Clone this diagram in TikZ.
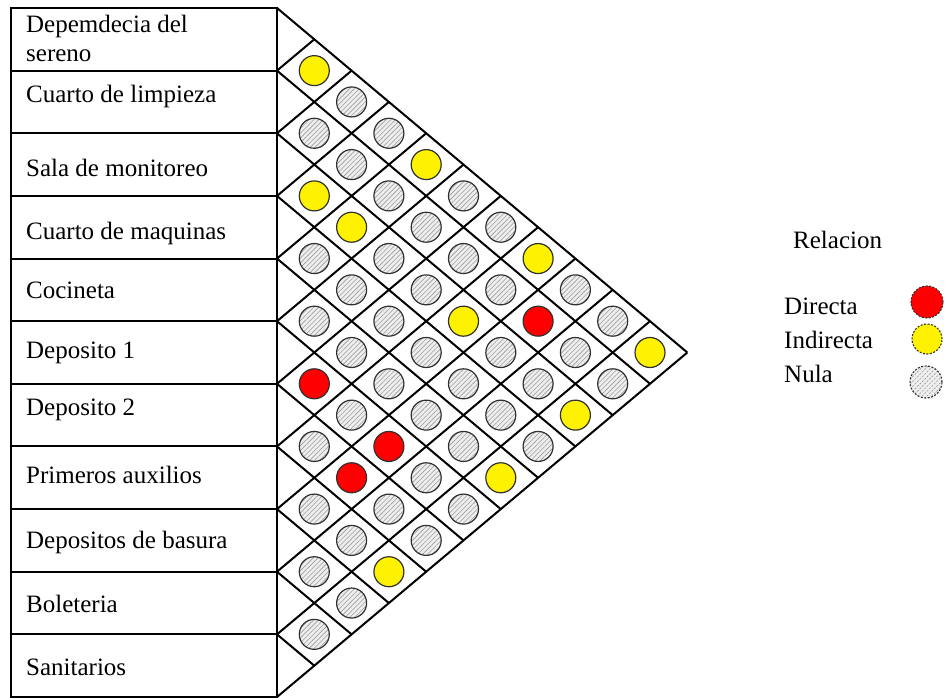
\documentclass[tikz,border=0pt]{standalone}
\usepackage{fontspec}
\setmainfont{Liberation Serif}
\usetikzlibrary{patterns.meta}
\definecolor{nulafill}{HTML}{EEEEEE}
\definecolor{nulahatch}{HTML}{9C9C9C}
\definecolor{rimcol}{HTML}{303030}
\begin{document}
\begin{tikzpicture}[x=1pt,y=-1pt,
  labelbox/.style={draw=black, line width=2pt, minimum width=266pt, minimum height=62.636pt, inner sep=0pt},
  labeltext/.style={anchor=base west, inner sep=0pt, font=\fontsize{25}{30}\selectfont},
  legtext/.style={anchor=base west, inner sep=0pt, font=\fontsize{25}{30}\selectfont},
  gridline/.style={draw=black, line width=2pt},
  rel/.style={circle, minimum size=30pt, inner sep=0pt, draw=rimcol, line width=1.2pt},
  yel/.style={rel, fill=yellow},
  dir/.style={rel, fill=red},
  hatch/.style={preaction={fill=nulafill}, pattern={Lines[angle=45, distance=3.4pt, line width=0.6pt]}, pattern color=nulahatch},
  nul/.style={rel, hatch},
  legcirc/.style={circle, minimum size=32pt, inner sep=0pt, draw=rimcol, line width=1.1pt, dash pattern=on 2pt off 1.5pt}
]
\useasboundingbox (0,0) rectangle (948,698);

% label boxes
\foreach \k in {0,...,10}{
  \node[labelbox] (r\k) at (144, {8+62.636*(\k+0.5)}) {};
}

% label texts
\node[labeltext] (t0a) at (26,33) {Depemdecia del};
\node[labeltext] (t0b) at (26,62) {sereno};
\node[labeltext] (t1) at (26,103) {Cuarto de limpieza};
\node[labeltext] (t2) at (26,176) {Sala de monitoreo};
\node[labeltext] (t3) at (26,239) {Cuarto de maquinas};
\node[labeltext] (t4) at (26,298) {Cocineta};
\node[labeltext] (t5) at (26,358) {Deposito 1};
\node[labeltext] (t6) at (26,415) {Deposito 2};
\node[labeltext] (t7) at (26,483) {Primeros auxilios};
\node[labeltext] (t8) at (26,548) {Depositos de basura};
\node[labeltext] (t9) at (26,612) {Boleteria};
\node[labeltext] (t10) at (26,675) {Sanitarios};

% diamond grid
\foreach \k in {0,...,11}{
  \coordinate (L\k) at (277, {8+62.636*\k});
  \coordinate (D\k) at ({277+(11-\k)*37.3}, {8+62.636*\k+(11-\k)*31.318});
  \coordinate (U\k) at ({277+\k*37.3}, {8+62.636*\k-\k*31.318});
  \draw[gridline] (L\k) -- (D\k);
  \draw[gridline] (L\k) -- (U\k);
}

% relation circles
\foreach \i/\j/\s in {
  0/1/yel, 0/2/nul, 0/3/nul, 0/4/yel, 0/5/nul, 0/6/nul, 0/7/yel, 0/8/nul, 0/9/nul, 0/10/yel,
  1/2/nul, 1/3/nul, 1/4/nul, 1/5/nul, 1/6/nul, 1/7/nul, 1/8/dir, 1/9/nul, 1/10/nul,
  2/3/yel, 2/4/yel, 2/5/nul, 2/6/nul, 2/7/yel, 2/8/nul, 2/9/nul, 2/10/yel,
  3/4/nul, 3/5/nul, 3/6/nul, 3/7/nul, 3/8/nul, 3/9/nul, 3/10/nul,
  4/5/nul, 4/6/nul, 4/7/nul, 4/8/nul, 4/9/nul, 4/10/yel,
  5/6/dir, 5/7/nul, 5/8/dir, 5/9/nul, 5/10/nul,
  6/7/nul, 6/8/dir, 6/9/nul, 6/10/nul,
  7/8/nul, 7/9/nul, 7/10/yel,
  8/9/nul, 8/10/nul,
  9/10/nul}{
  \node[\s] (c\i-\j) at ({277+(\j-\i)*37.3}, {8+31.318*(\i+\j+1)}) {};
}

% legend
\node[legtext] (legtitle) at (793,248) {Relacion};
\node[legtext] (legdir) at (784,314) {Directa};
\node[legtext] (legind) at (784,348) {Indirecta};
\node[legtext] (legnul) at (784,382) {Nula};
\node[legcirc, fill=red] (cdir) at (927,302) {};
\node[legcirc, fill=yellow, minimum size=30pt] (cind) at (927,339) {};
\node[legcirc, hatch] (cnul) at (926,382) {};
\end{tikzpicture}
\end{document}
